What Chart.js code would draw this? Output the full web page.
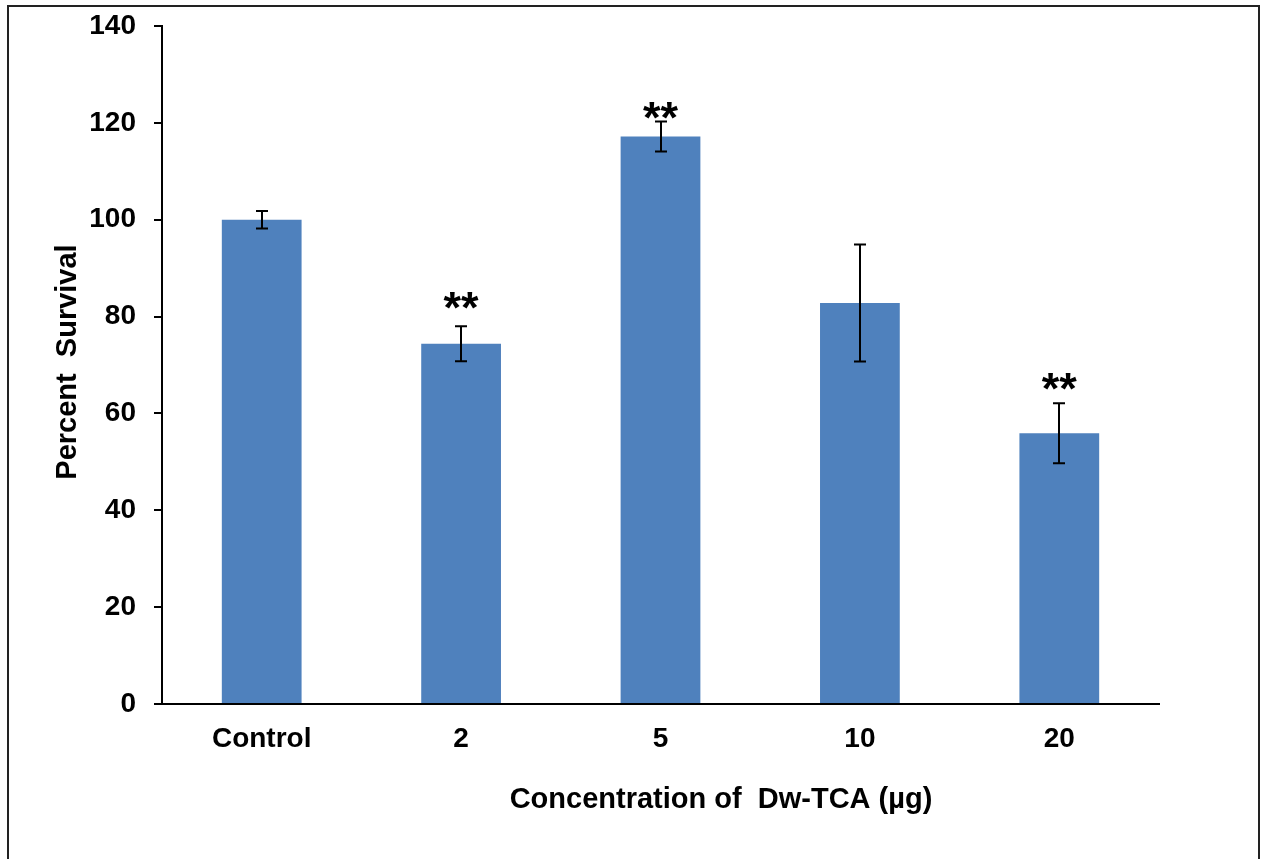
<!DOCTYPE html>
<html>
<head>
<meta charset="utf-8">
<script src="https://cdn.jsdelivr.net/npm/chart.js@4"></script>
<style>
  html, body { margin: 0; padding: 0; background: #fff; }
  #wrap { position: relative; width: 1267px; height: 859px; }
  #frame {
    position: absolute; left: 7px; top: 5px; width: 1253px; height: 860px;
    border-left: 2px solid #222; border-top: 2px solid #222; border-right: 2px solid #222;
    box-sizing: border-box; pointer-events: none;
  }
  canvas { position: absolute; left: 0; top: 0; }
</style>
</head>
<body>
<div id="wrap">
  <canvas id="c" width="1267" height="859"></canvas>
  <div id="frame"></div>
</div>
<script>
// Survival (%) by Dw-TCA dose, mean ± error
const categories = ['Control', '2', '5', '10', '20'];
const survival = [100, 74.4, 117.2, 82.8, 55.9];
const errors = [1.8, 3.6, 3.1, 12.1, 6.2];
// significance marks and the value height at which each is drawn
const sigMarks = ['', '**', '**', '', '**'];
const sigAt = [0, 83.7, 123.0, 0, 67.0];
const yTicks = [0, 20, 40, 60, 80, 100, 120, 140];

const FONT = '"Liberation Sans", Arial, sans-serif';

const errorBars = {
  id: 'errorBars',
  afterDatasetsDraw(chart) {
    const ctx = chart.ctx;
    const y = chart.scales.y;
    const meta = chart.getDatasetMeta(0);
    ctx.save();
    ctx.strokeStyle = '#000';
    ctx.lineWidth = 2;
    meta.data.forEach((bar, i) => {
      const x = Math.round(bar.x);
      const top = y.getPixelForValue(survival[i] + errors[i]);
      const bot = y.getPixelForValue(survival[i] - errors[i]);
      ctx.beginPath();
      ctx.moveTo(x, top); ctx.lineTo(x, bot);
      ctx.moveTo(x - 6, top); ctx.lineTo(x + 6, top);
      ctx.moveTo(x - 6, bot); ctx.lineTo(x + 6, bot);
      ctx.stroke();
      if (sigMarks[i]) {
        ctx.fillStyle = '#000';
        ctx.font = 'bold 45px ' + FONT;
        ctx.textAlign = 'center';
        ctx.textBaseline = 'middle';
        ctx.fillText(sigMarks[i], bar.x, y.getPixelForValue(sigAt[i]) + 12);
      }
    });
    ctx.restore();
  }
};

const axisTitles = {
  id: 'axisTitles',
  afterDraw(chart) {
    const ctx = chart.ctx;
    ctx.save();
    ctx.fillStyle = '#000';
    ctx.font = 'bold 29px ' + FONT;
    ctx.textAlign = 'center';
    ctx.textBaseline = 'middle';
    ctx.fillText('Concentration of  Dw-TCA (µg)', 721, 800);
    ctx.translate(68, 362);
    ctx.rotate(-Math.PI / 2);
    ctx.fillText('Percent  Survival', 0, 0);
    ctx.restore();
  }
};

new Chart(document.getElementById('c'), {
  type: 'bar',
  data: {
    labels: categories,
    datasets: [{
      data: survival,
      backgroundColor: '#4F81BD',
      borderWidth: 0,
      categoryPercentage: 1.0,
      barPercentage: 0.4
    }]
  },
  options: {
    responsive: false,
    animation: false,
    devicePixelRatio: 1,
    layout: { padding: { top: 26, right: 108, left: 0, bottom: 0 } },
    plugins: { legend: { display: false }, tooltip: { enabled: false } },
    scales: {
      x: {
        afterFit(scale) { scale.height = 155; },
        border: { display: true, color: '#000', width: 2 },
        grid: { display: false, drawTicks: false },
        ticks: {
          color: '#000',
          padding: 18,
          font: { family: FONT, size: 28, weight: 'bold' }
        }
      },
      y: {
        min: 0,
        max: 140,
        afterFit(scale) {
          scale.width = 162;
          scale.paddingTop = 0;
          scale.paddingBottom = 0;
        },
        afterBuildTicks(scale) { scale.ticks = yTicks.map(v => ({ value: v })); },
        border: { display: true, color: '#000', width: 2 },
        grid: { drawOnChartArea: false, drawTicks: true, tickLength: 8, color: '#000', lineWidth: 2 },
        ticks: {
          color: '#000',
          padding: 18,
          font: { family: FONT, size: 28, weight: 'bold' }
        }
      }
    }
  },
  plugins: [errorBars, axisTitles]
});
</script>
</body>
</html>
